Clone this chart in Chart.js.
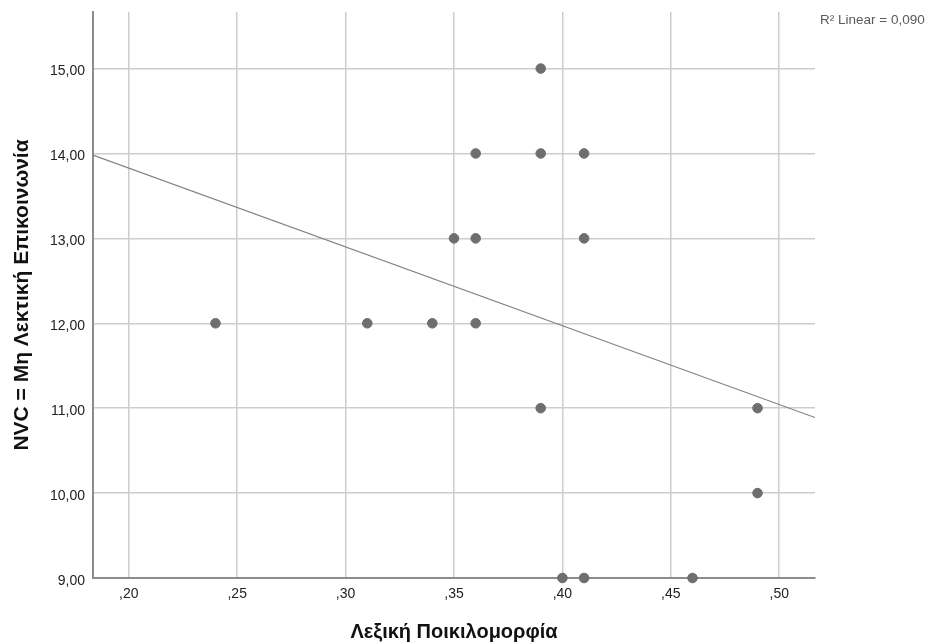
<!DOCTYPE html>
<html>
<head>
<meta charset="utf-8">
<script src="https://cdn.jsdelivr.net/npm/chart.js@4/dist/chart.umd.min.js"></script>
<style>
  html, body { margin: 0; padding: 0; background: #fff; }
  #wrap { width: 930px; height: 644px; }
</style>
</head>
<body>
<div id="wrap"><canvas id="grafDispersion"></canvas></div>
<script>
// observaciones: diversidad léxica vs. comunicación no verbal
const lexiki = [0.24, 0.31, 0.34, 0.36, 0.35, 0.36, 0.41, 0.36, 0.39, 0.41, 0.39, 0.39, 0.49, 0.49, 0.40, 0.41, 0.46];
const nvc    = [12,   12,   12,   12,   13,   13,   13,   14,   14,   14,   15,   11,   11,   10,   9,    9,    9];

// recta de ajuste lineal (extremos del rango del eje)
const ajusteX = [0.1835, 0.5165];
const ajusteY = [13.98, 10.89];
const r2Texto = 'R\u00B2 Linear = 0,090';

const ticksX = [0.20, 0.25, 0.30, 0.35, 0.40, 0.45, 0.50];
const ticksY = [9, 10, 11, 12, 13, 14, 15];

const puntos = lexiki.map((x, i) => ({x: x, y: nvc[i]}));
const recta = ajusteX.map((x, i) => ({x: x, y: ajusteY[i]}));

const fuente = "'Liberation Sans', Arial, sans-serif";

// etiqueta del R² arriba a la derecha
const etiquetaR2 = {
    id: 'etiquetaR2',
    afterDraw(chart) {
        const ctx = chart.ctx;
        ctx.save();
        ctx.font = '13.5px ' + fuente;
        ctx.fillStyle = '#5a5a5a';
        ctx.textBaseline = 'middle';
        ctx.textAlign = 'left';
        ctx.fillText(r2Texto, chart.chartArea.right + 5, 20);
        ctx.restore();
    }
};

document.addEventListener('DOMContentLoaded', () => {
    new Chart(document.getElementById('grafDispersion'), {
        type: 'scatter',
        data: {
            datasets: [{
                label: 'NVC',
                data: puntos,
                backgroundColor: '#6e6e6e',
                borderColor: '#6e6e6e',
                pointRadius: 4.8,
                pointHoverRadius: 4.8,
                clip: false,
                order: 1
            }, {
                type: 'line',
                label: 'Linear',
                data: recta,
                borderColor: '#808080',
                borderWidth: 1.2,
                pointRadius: 0,
                fill: false,
                order: 2
            }]
        },
        options: {
            responsive: true,
            maintainAspectRatio: false,
            animation: false,
            layout: { padding: { top: 12, right: 115, left: 0, bottom: 0 } },
            plugins: {
                legend: { display: false },
                tooltip: { enabled: false }
            },
            scales: {
                x: {
                    type: 'linear',
                    min: 0.1835,
                    max: 0.5165,
                    afterBuildTicks: s => { s.ticks = ticksX.map(v => ({value: v})); },
                    afterFit: s => { s.height = 66; },
                    grid: { color: '#cdcdcd', lineWidth: 1.5, drawTicks: false },
                    border: { color: '#8c8c8c', width: 2 },
                    ticks: {
                        padding: 8,
                        color: '#222',
                        font: { family: fuente, size: 14 },
                        callback: v => v.toFixed(2).replace('0.', ',')
                    },
                    title: {
                        display: true,
                        text: 'Λεξική Ποικιλομορφία',
                        color: '#111',
                        font: { family: fuente, size: 20, weight: 'bold' },
                        padding: { top: 0, bottom: 0 }
                    }
                },
                y: {
                    type: 'linear',
                    min: 9,
                    max: 15.666,
                    afterBuildTicks: s => { s.ticks = ticksY.map(v => ({value: v})); },
                    afterFit: s => {
                        s.width = 93;
                        // sin margen extra para las etiquetas de los extremos
                        s.paddingTop = 0;
                        s.paddingBottom = 0;
                    },
                    grid: { color: '#cdcdcd', lineWidth: 1.5, drawTicks: false },
                    border: { color: '#8c8c8c', width: 2 },
                    ticks: {
                        padding: 8,
                        labelOffset: 3,
                        color: '#222',
                        font: { family: fuente, size: 14 },
                        callback: v => v.toFixed(2).replace('.', ',')
                    },
                    title: {
                        display: true,
                        text: 'NVC = Μη Λεκτική Επικοινωνία',
                        color: '#111',
                        font: { family: fuente, size: 21, weight: 'bold' },
                        padding: { top: 10, bottom: 0 }
                    }
                }
            }
        },
        plugins: [etiquetaR2]
    });
});
</script>
</body>
</html>
